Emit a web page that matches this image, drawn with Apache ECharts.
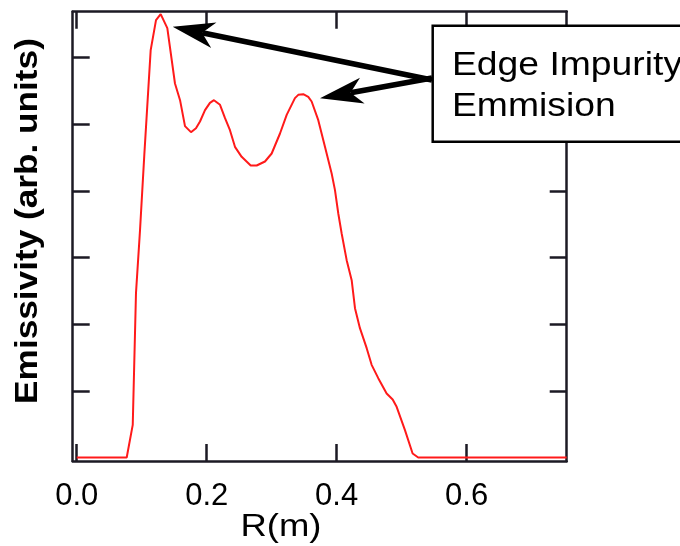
<!DOCTYPE html>
<html>
<head>
<meta charset="utf-8">
<script src="https://cdn.jsdelivr.net/npm/echarts@6/dist/echarts.min.js"></script>
<style>html,body{margin:0;padding:0;background:#fff}#c{width:680px;height:546px}</style>
</head>
<body>
<div id="c"></div>
<script>
// ---- data ----
const rValues = [0, 0.0769, 0.0862, 0.0912, 0.0974, 0.104, 0.1138, 0.122, 0.1292, 0.1394, 0.1512, 0.159, 0.1666, 0.1758, 0.1835, 0.1897, 0.1974, 0.205, 0.2112, 0.2205, 0.2282, 0.2358, 0.2435, 0.2538, 0.2677, 0.2769, 0.2897, 0.30, 0.3128, 0.3231, 0.3358, 0.3409, 0.3486, 0.3563, 0.3615, 0.3717, 0.382, 0.3923, 0.3974, 0.4025, 0.4077, 0.4154, 0.4231, 0.4282, 0.4358, 0.4462, 0.4538, 0.464, 0.4769, 0.4862, 0.4923, 0.5051, 0.5169, 0.5255, 0.754];
const emissivity = [0, 0, 0.49, 2.47, 3.41, 4.54, 6.11, 6.56, 6.65, 6.44, 5.61, 5.36, 4.97, 4.88, 4.94, 5.04, 5.21, 5.32, 5.36, 5.29, 5.09, 4.91, 4.66, 4.51, 4.38, 4.38, 4.44, 4.56, 4.86, 5.14, 5.39, 5.44, 5.45, 5.41, 5.34, 5.06, 4.66, 4.26, 4.01, 3.66, 3.36, 2.96, 2.66, 2.24, 1.94, 1.64, 1.39, 1.19, 0.96, 0.87, 0.76, 0.41, 0.06, 0, 0];
const xTicks = [0, 0.2, 0.4, 0.6];
const yTicks = [1, 2, 3, 4, 5, 6];
const xTitle = 'R(m)';
const yTitle = 'Emissivity (arb. units)';
const noteLines = ['Edge Impurity', 'Emmision'];

// ---- chart ----
const AX = '#1c1a24';
const chart = echarts.init(document.getElementById('c'), null, {renderer: 'canvas'});
const seriesData = rValues.map((r, i) => [r, emissivity[i]]);

function xAxisDef(pos, showLabel) {
  return {
    type: 'value', position: pos, min: -0.0062, max: 0.754,
    splitLine: {show: false},
    axisLine: {show: true, onZero: false, lineStyle: {color: AX, width: 2.5}},
    axisTick: {show: true, inside: true, length: 17, lineStyle: {color: AX, width: 2.5}, customValues: xTicks},
    axisLabel: {show: showLabel, customValues: xTicks, margin: 20, color: '#000',
      fontFamily: 'Liberation Sans, Arial, sans-serif', fontSize: 31,
      formatter: v => Number(v).toFixed(1)}
  };
}
function yAxisDef(pos) {
  return {
    type: 'value', position: pos, min: -0.0525, max: 6.687,
    splitLine: {show: false},
    axisLine: {show: true, onZero: false, lineStyle: {color: AX, width: 2.5}},
    axisTick: {show: true, inside: true, length: 17, lineStyle: {color: AX, width: 2.5}, customValues: yTicks},
    axisLabel: {show: false}
  };
}

// arrow geometry (annotation layout)
function arrow(tip, tail, L, W, N) {
  const dx = tail[0] - tip[0], dy = tail[1] - tip[1];
  const len = Math.hypot(dx, dy), ux = dx / len, uy = dy / len;
  const px = -uy, py = ux;
  const bc = [tip[0] + ux * L, tip[1] + uy * L];
  const notch = [tip[0] + ux * N, tip[1] + uy * N];
  return [
    {type: 'line', shape: {x1: notch[0], y1: notch[1], x2: tail[0], y2: tail[1]},
      style: {stroke: '#000', lineWidth: 5.5, lineCap: 'butt'}, z: 20},
    {type: 'polygon', shape: {points: [tip, [bc[0] + px * W, bc[1] + py * W], notch, [bc[0] - px * W, bc[1] - py * W]]},
      style: {fill: '#000'}, z: 21}
  ];
}

const FONT = '"Liberation Sans", Arial, sans-serif';
const graphics = [
  {type: 'text', x: 28, y: 221, rotation: Math.PI / 2, scaleX: 1.1,
    style: {text: yTitle, font: 'bold 32px ' + FONT, fill: '#000', align: 'center', verticalAlign: 'middle'}, z: 10},
  {type: 'text', x: 281, y: 527, scaleX: 1.14,
    style: {text: xTitle, font: '32px ' + FONT, fill: '#000', align: 'center', verticalAlign: 'middle'}, z: 10},
  {type: 'rect', shape: {x: 432.7, y: 25.7, width: 300, height: 116},
    style: {fill: '#fff', stroke: '#000', lineWidth: 2.5}, z: 15},
  {type: 'text', x: 452, y: 66, scaleX: 1.13,
    style: {text: noteLines[0], font: '33px ' + FONT, fill: '#000', align: 'left', verticalAlign: 'middle'}, z: 16},
  {type: 'text', x: 452, y: 107, scaleX: 1.13,
    style: {text: noteLines[1], font: '33px ' + FONT, fill: '#000', align: 'left', verticalAlign: 'middle'}, z: 16}
].concat(arrow([172.7, 26.7], [432, 80], 42, 13, 30))
 .concat(arrow([320, 98.3], [432, 78], 43, 13, 31));

chart.setOption({
  animation: false,
  backgroundColor: '#fff',
  grid: {left: 72.7, right: 113.3, top: 11.7, bottom: 85, containLabel: false},
  xAxis: [xAxisDef('bottom', true), xAxisDef('top', false)],
  yAxis: [yAxisDef('left'), yAxisDef('right')],
  series: [{
    type: 'line', xAxisIndex: 0, yAxisIndex: 0, data: seriesData,
    showSymbol: false, symbol: 'none', smooth: false,
    lineStyle: {color: '#ff1a1a', width: 2}, z: 5
  }],
  graphic: graphics
});
</script>
</body>
</html>
